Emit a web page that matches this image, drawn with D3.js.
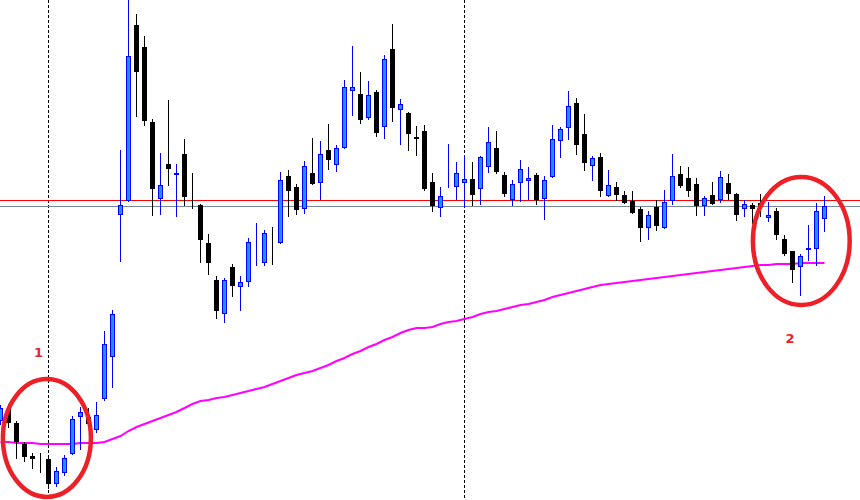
<!DOCTYPE html>
<html>
<head>
<meta charset="utf-8">
<script src="https://cdn.jsdelivr.net/npm/d3@7"></script>
<style>
  html, body { margin: 0; padding: 0; background: #fff; }
  svg { display: block; }
</style>
</head>
<body>
<svg id="chart" width="860" height="500"></svg>
<script>
// candle values (points), one per bar
let open = [79, 91, 77, 56, 44, 39, 41, 16, 27, 46, 83, 83, 70, 101, 143, 285, 299, 475, 453, 378,
    301, 336, 325, 346, 307, 295, 257, 220, 186, 233, 213, 218, 242, 237, 264, 257, 324, 313, 291, 327,
    317, 350, 335, 352, 409, 406, 382, 408, 373, 451, 390, 387, 363, 369, 318, 292, 315, 313, 317, 321,
    311, 333, 352, 325, 300, 317, 319, 325, 301, 323, 359, 372, 397, 366, 334, 343, 304, 313, 305, 299,
    291, 272, 293, 272, 299, 326, 322, 316, 294, 305, 300, 317, 306, 291, 295, 297, 282, 289, 261, 249,
    233, 250, 251, 281]
let high = [95, 96, 79, 58, 47, 47, 43, 33, 45, 84, 93, 92, 98, 169, 190, 350, 505, 486, 464, 381,
    347, 400, 336, 361, 327, 296, 266, 224, 222, 236, 224, 262, 277, 270, 273, 328, 330, 316, 339, 362,
    359, 376, 355, 420, 454, 428, 419, 410, 445, 476, 401, 388, 374, 375, 327, 313, 356, 338, 345, 338,
    344, 373, 369, 328, 320, 340, 333, 327, 324, 375, 373, 409, 402, 386, 344, 347, 330, 318, 309, 309,
    293, 289, 300, 310, 346, 334, 333, 322, 304, 318, 329, 326, 307, 300, 297, 306, 298, 292, 265, 249,
    246, 275, 297, 304]
let low = [75, 72, 41, 38, 31, 27, 11, 13, 24, 45, 50, 73, 67, 99, 112, 238, 298, 383, 374, 284,
    285, 314, 283, 294, 291, 237, 225, 181, 177, 203, 189, 213, 234, 234, 235, 256, 283, 285, 286, 315,
    300, 330, 328, 351, 384, 376, 380, 363, 361, 378, 355, 349, 344, 309, 288, 283, 312, 300, 293, 294,
    295, 327, 326, 303, 294, 298, 300, 295, 280, 322, 342, 360, 345, 329, 319, 303, 303, 299, 296, 286,
    258, 260, 269, 271, 295, 312, 303, 284, 284, 295, 297, 300, 279, 283, 276, 283, 278, 260, 244, 217,
    204, 239, 234, 268]
let close = [92, 77, 58, 43, 41, 38, 16, 29, 42, 81, 88, 76, 85, 156, 186, 295, 444, 428, 379, 311,
    315, 331, 327, 303, 306, 260, 237, 189, 220, 214, 218, 258, 243, 267, 263, 320, 309, 290, 334, 316,
    346, 340, 352, 413, 413, 380, 405, 367, 441, 392, 396, 366, 361, 311, 294, 304, 316, 327, 321, 305,
    343, 358, 328, 306, 316, 331, 322, 300, 320, 361, 371, 394, 355, 337, 342, 309, 315, 305, 297, 287,
    272, 285, 274, 298, 324, 314, 309, 294, 302, 296, 323, 306, 285, 296, 291, 293, 285, 265, 246, 230,
    244, 252, 289, 294]

// slow moving average (magenta)
let movingAvg = [58, 58, 57, 57, 57, 56, 56, 56, 56, 56, 57, 57, 57, 58, 61, 64, 69, 73, 76, 79,
    82, 85, 88, 92, 96, 99, 100, 102, 103, 105, 107, 109, 111, 113, 116, 119, 122, 125, 127, 129,
    132, 135, 139, 142, 146, 149, 153, 156, 160, 163, 167, 170, 172, 172, 173, 176, 178, 179, 181, 183,
    186, 188, 189, 191, 193, 195, 196, 198, 200, 203, 205, 207, 209, 211, 213, 215, 216, 217, 218, 219,
    220, 221, 222, 223, 224, 225, 226, 227, 228, 229, 230, 231, 232, 233, 234, 235, 235, 236, 236, 236,
    237, 237, 237, 237]

// horizontal levels and vertical separators
let levels = [{value: 299.5, color: '#ff0000'}, {value: 293.5, color: '#778899'}]
let separators = [6, 58]

// marked zones
let marks = [
    {label: '1', bar: 5.8, price: 62, rBars: 5.5, rPrice: 59, labelBar: 4.75, labelPrice: 143},
    {label: '2', bar: 100.1, price: 259, rBars: 6.05, rPrice: 64, labelBar: 98.7, labelPrice: 157}
]

let svg = d3.select('#chart'),
    width = +svg.attr('width'),
    height = +svg.attr('height')

let x = d3.scaleLinear().domain([0, 103]).range([0.5, 824.5])
let y = d3.scaleLinear().domain([0, 500]).range([height, 0])

let bars = open.map((o, i) => ({i: i, o: o, h: high[i], l: low[i], c: close[i], up: close[i] >= o}))

svg.append('rect').attr('width', width).attr('height', height).attr('fill', '#fff')

svg.append('g')
    .selectAll('line')
    .data(separators)
    .enter().append('line')
    .attr('x1', d => x(d)).attr('x2', d => x(d))
    .attr('y1', 0).attr('y2', height)
    .attr('stroke', '#000')
    .attr('stroke-width', 1)
    .attr('stroke-dasharray', '3,2')

svg.append('g')
    .selectAll('line')
    .data(levels)
    .enter().append('line')
    .attr('x1', 0).attr('x2', width)
    .attr('y1', d => y(d.value)).attr('y2', d => y(d.value))
    .attr('stroke', d => d.color)
    .attr('stroke-width', 1)

let line = d3.line()
    .x((d, i) => x(i))
    .y(d => y(d))

svg.append('path')
    .datum(movingAvg)
    .attr('d', line)
    .attr('fill', 'none')
    .attr('stroke', '#ff00ff')
    .attr('stroke-width', 2)

let candle = svg.append('g')
    .selectAll('g')
    .data(bars)
    .enter().append('g')

candle.append('line')
    .attr('x1', d => x(d.i)).attr('x2', d => x(d.i))
    .attr('y1', d => y(d.h)).attr('y2', d => y(d.l))
    .attr('stroke', d => d.up ? '#0000ff' : '#000')
    .attr('stroke-width', 1)

candle.append('rect')
    .attr('x', d => x(d.i) - 2)
    .attr('width', 4)
    .attr('y', d => Math.round(y(Math.max(d.o, d.c))) + 0.5)
    .attr('height', d => Math.max(0, Math.round(Math.abs(y(d.o) - y(d.c))) - 1))
    .attr('fill', d => d.up ? '#1e90ff' : '#000')
    .attr('stroke', d => d.up ? '#0000ff' : '#000')
    .attr('stroke-width', 1)

let zone = svg.append('g')
    .selectAll('g')
    .data(marks)
    .enter().append('g')

zone.append('ellipse')
    .attr('cx', d => x(d.bar))
    .attr('cy', d => y(d.price))
    .attr('rx', d => x(d.rBars) - x(0))
    .attr('ry', d => y(0) - y(d.rPrice))
    .attr('fill', 'none')
    .attr('stroke', '#ec2026')
    .attr('stroke-width', 4.5)

zone.append('text')
    .attr('x', d => x(d.labelBar))
    .attr('y', d => y(d.labelPrice))
    .attr('text-anchor', 'middle')
    .attr('font-family', 'DejaVu Sans, sans-serif')
    .attr('font-size', 13)
    .attr('font-weight', 'bold')
    .attr('fill', '#ec2026')
    .text(d => d.label)
</script>
</body>
</html>
